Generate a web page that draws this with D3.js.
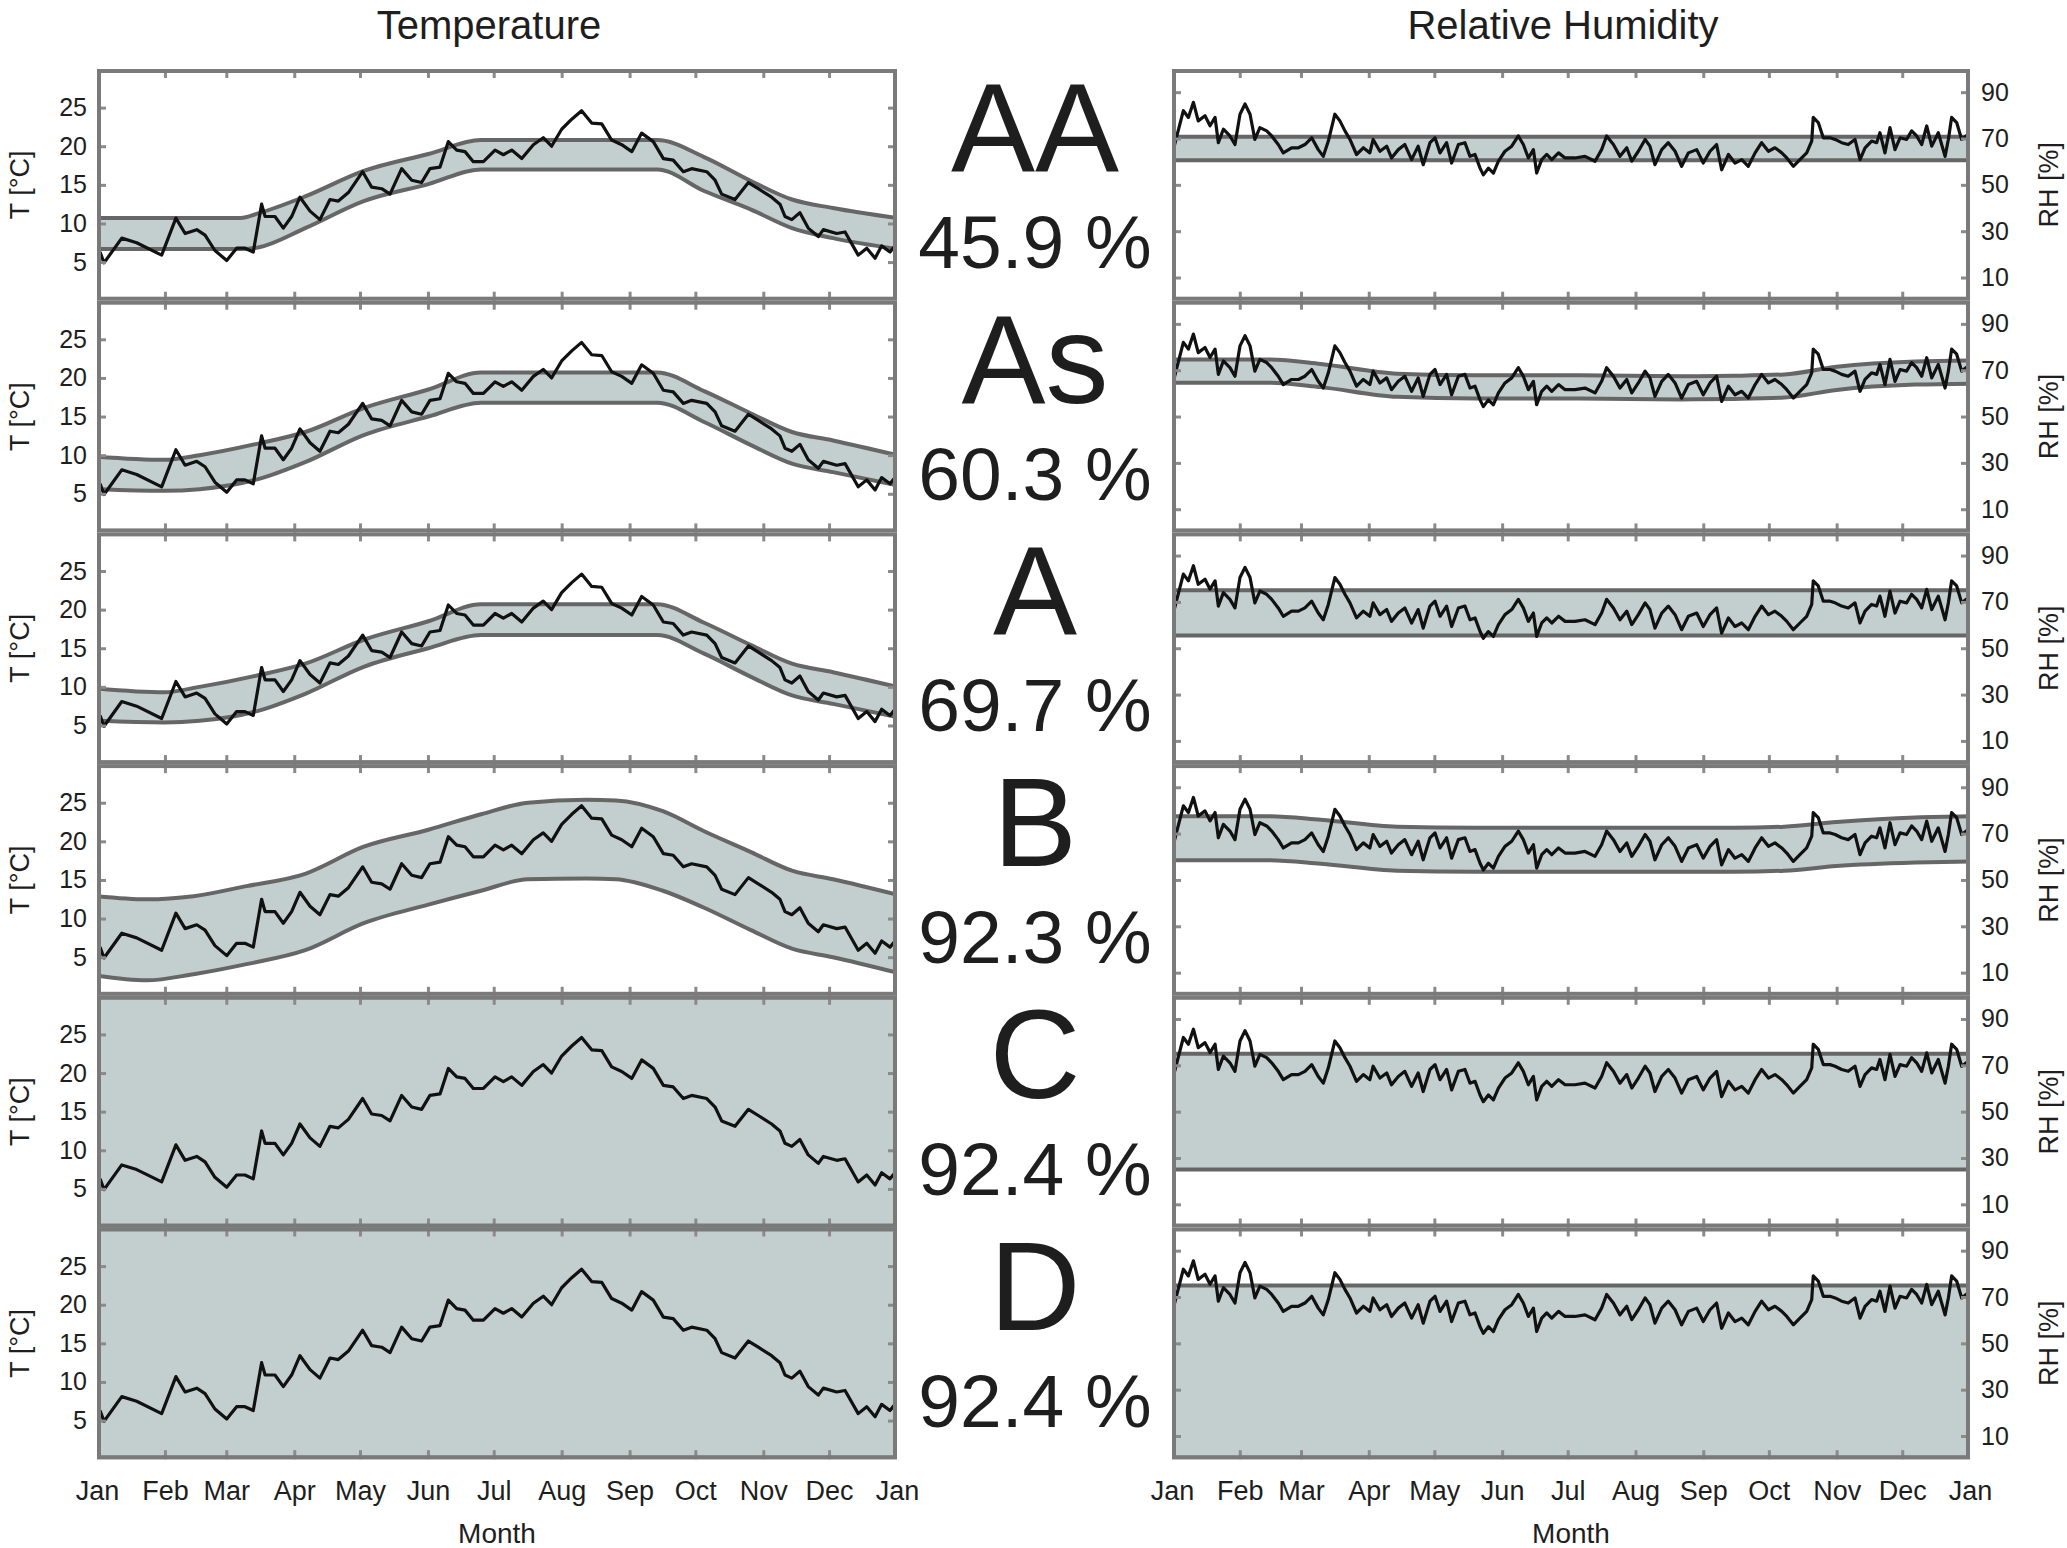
<!DOCTYPE html>
<html>
<head>
<meta charset="utf-8">
<script src="https://cdn.jsdelivr.net/npm/d3@7"></script>
<style>
  body { margin: 0; background: #fff; }
  svg { display: block; }
  text { font-family: "Liberation Sans", Arial, sans-serif; fill: #1e1e1e; }
</style>
</head>
<body>
<svg id="chart" width="2067" height="1548"></svg>
<script>
// ---- climate classes and share of the year inside each class's limits ----
const classes = ["AA", "As", "A", "B", "C", "D"];
const inBandPct = [45.9, 60.3, 69.7, 92.3, 92.4, 92.4];

// ---- time axis (day of year) ----
const monthLabels = ["Jan", "Feb", "Mar", "Apr", "May", "Jun", "Jul", "Aug", "Sep", "Oct", "Nov", "Dec", "Jan"];
const monthStartDays = [0, 31, 59, 90, 120, 151, 181, 212, 243, 273, 304, 334, 365];
const tempTicks = [5, 10, 15, 20, 25];
const rhTicks = [10, 30, 50, 70, 90];

// ---- measured indoor temperature [°C] ----
const tempDays = [1.4, 3.2, 11.3, 18.1, 29.5, 36.0, 40.2, 45.5, 49.3, 53.8, 59.2, 63.7, 67.5, 71.3,
  75.1, 76.7, 81.2, 85.0, 88.8, 92.6, 97.2, 101.7, 106.3, 110.1, 114.7, 121.2, 125.3, 129.9, 133.7,
  139.0, 143.6, 148.1, 151.9, 156.5, 160.3, 164.1, 167.9, 171.7, 176.3, 181.6, 185.4, 189.2, 193.8,
  199.1, 203.6, 207.4, 212.0, 216.6, 221.1, 225.7, 230.3, 234.8, 239.4, 244.0, 248.5, 253.8, 258.4,
  262.9, 267.5, 271.3, 278.2, 282.0, 285.0, 291.1, 297.2, 301.7, 307.8, 311.6, 313.9, 317.0, 320.7,
  324.5, 329.1, 331.4, 337.5, 341.3, 347.3, 351.2, 355.0, 358.0, 361.8, 364.1];
const tempValues = [6.3, 4.9, 8.1, 7.5, 5.9, 10.7, 8.7, 9.2, 8.5, 6.5, 5.2, 6.8, 6.8, 6.3,
  12.5, 10.9, 10.9, 9.4, 10.9, 13.4, 11.6, 10.5, 13.1, 12.9, 14.0, 16.7, 14.7, 14.5, 13.8,
  17.1, 15.6, 15.3, 17.1, 17.3, 20.6, 19.5, 19.3, 18.0, 18.0, 19.5, 18.9, 19.5, 18.4,
  20.2, 21.1, 20.0, 22.2, 23.5, 24.6, 23.0, 22.9, 20.8, 20.2, 19.3, 21.7, 20.6, 18.4,
  18.2, 16.7, 17.1, 16.7, 15.6, 13.8, 13.1, 15.3, 14.5, 13.4, 12.5, 10.9, 10.5, 11.4,
  9.4, 8.3, 9.2, 8.7, 8.9, 5.9, 6.8, 5.5, 7.1, 6.3, 7.1];

// ---- measured indoor relative humidity [%] ----
const rhDays = [0.6, 5.2, 7.5, 9.8, 12.0, 15.1, 17.4, 19.7, 21.2, 23.5, 26.5, 28.8, 31.1, 33.4, 35.7,
  37.9, 40.2, 43.3, 45.6, 48.6, 50.9, 54.7, 57.8, 60.8, 63.9, 66.9, 69.2, 71.5, 74.5, 76.8, 79.1,
  81.4, 84.4, 87.5, 90.5, 92.0, 95.1, 98.2, 100.4, 103.5, 106.5, 109.6, 112.6, 114.9, 118.0, 120.3,
  122.6, 125.6, 127.9, 131.0, 134.0, 136.3, 138.6, 140.9, 142.4, 144.7, 147.0, 149.3, 152.3, 155.4,
  158.4, 160.7, 163.0, 165.3, 166.8, 169.1, 171.4, 173.7, 176.8, 179.8, 184.3, 188.9, 193.5, 196.5,
  198.8, 201.9, 204.9, 208.0, 210.3, 213.3, 216.4, 218.6, 220.9, 224.0, 227.0, 230.1, 233.1, 236.2,
  240.0, 243.0, 246.1, 249.1, 251.4, 254.5, 257.5, 260.6, 263.6, 266.7, 269.7, 272.8, 275.8, 278.9,
  281.2, 284.2, 287.2, 290.3, 292.6, 293.3, 295.6, 297.9, 301.0, 303.3, 306.3, 309.3, 312.4, 314.7,
  317.0, 320.0, 322.3, 323.8, 326.1, 328.4, 330.7, 333.0, 336.0, 338.3, 340.6, 342.9, 345.2, 347.5,
  350.5, 353.6, 355.1, 356.6, 358.9, 361.2, 364.5];
const rhValues = [65.2, 82.0, 79.1, 85.6, 77.6, 79.8, 75.5, 79.1, 68.2, 74.0, 71.1, 67.4, 80.5, 84.9, 80.5,
  69.6, 74.7, 73.3, 71.1, 67.4, 63.8, 66.0, 66.0, 67.4, 70.3, 65.2, 62.3, 68.9, 80.5, 77.6, 73.3,
  69.6, 63.1, 66.0, 63.8, 69.6, 64.5, 66.7, 61.6, 65.2, 67.4, 60.9, 66.7, 58.7, 68.2, 70.3,
  63.8, 68.2, 59.4, 67.4, 68.2, 62.3, 63.1, 57.2, 54.3, 57.2, 55.1, 60.2, 64.5, 66.7,
  71.1, 67.4, 61.6, 65.2, 55.1, 60.9, 63.1, 60.9, 63.8, 61.6, 61.6, 62.3, 60.2, 65.2,
  71.1, 67.4, 62.3, 66.0, 60.2, 64.5, 69.6, 66.7, 58.7, 65.2, 68.2, 64.5, 58.0, 63.8,
  65.2, 59.4, 64.5, 67.4, 56.5, 63.1, 59.4, 60.9, 58.0, 63.8, 68.2, 64.5, 66.0, 63.8,
  61.6, 58.0, 60.9, 63.8, 68.9, 79.1, 76.9, 70.3, 70.3, 69.6, 68.2, 67.4, 69.6, 60.9,
  66.0, 68.9, 68.2, 72.5, 63.8, 74.7, 65.2, 70.3, 69.6, 73.3, 71.1, 67.4, 75.4, 66.7,
  72.5, 62.3, 69.6, 79.1, 76.9, 69.6, 72.0];

// ---- allowed temperature ranges per class: [day, lower, upper] ----
const tBandAA = [[0, 6.7, 10.7], [65.5, 6.7, 10.7], [73.5, 6.9, 11.3], [95, 9.4, 13.5], [121.7, 12.9, 16.8],
  [151.2, 15.1, 19.0], [175.2, 17.0, 20.8], [255.6, 17.0, 20.8], [277, 14.2, 18.6], [298.4, 11.8, 15.5],
  [317.1, 9.4, 13.1], [335.8, 8.1, 12.0], [365, 6.7, 10.7]];
const tBandAs = [[0, 5.6, 9.8], [30.7, 5.4, 9.4], [46.8, 5.6, 10.0], [73.5, 6.9, 11.5], [95, 9.1, 13.0],
  [121.7, 12.6, 16.1], [151.2, 15.0, 18.5], [175.2, 16.8, 20.7], [255.6, 16.8, 20.7], [277, 14.3, 18.3],
  [298.4, 11.3, 15.4], [317.1, 8.9, 13.0], [335.8, 7.8, 11.9], [365, 6.1, 10.0]];
const tBandA = [[0, 5.6, 9.8], [30.7, 5.4, 9.3], [46.8, 5.6, 10.0], [73.5, 6.9, 11.5], [95, 9.1, 13.0],
  [121.7, 12.6, 16.1], [151.2, 15.0, 18.5], [175.2, 16.7, 20.7], [255.6, 16.7, 20.7], [277, 14.3, 18.3],
  [298.4, 11.3, 15.4], [317.1, 8.9, 13.0], [335.8, 7.8, 11.9], [365, 6.1, 10.0]];
const tBandB = [[0, 2.6, 12.9], [22.7, 2.0, 12.5], [44.1, 2.8, 12.9], [68.2, 4.1, 14.2], [95, 5.9, 15.8],
  [121.7, 9.4, 19.3], [151.2, 11.8, 21.5], [175.2, 13.6, 23.5], [196.6, 15.1, 25.0], [223.4, 15.2, 25.4],
  [236.8, 15.1, 25.3], [258.2, 13.6, 23.9], [277, 11.4, 21.3], [298.4, 8.5, 18.6], [317.1, 6.1, 16.2],
  [335.8, 5.0, 15.1], [365, 3.0, 13.1]];
const tBandC = [[0, 0, 30], [365, 0, 30]];
const tBandD = [[0, 0, 30], [365, 0, 30]];

// ---- allowed relative humidity ranges per class: [day, lower, upper] ----
const rhBandAA = [[0, 60.6, 70.8], [365, 60.6, 70.8]];
const rhBandAs = [[0, 64.6, 74.6], [44, 64.6, 74.6], [68, 62.7, 72.7], [103, 58.5, 68.5], [139, 57.8, 67.8],
  [186, 57.8, 67.8], [233, 57.4, 67.4], [257, 57.6, 67.6], [280, 58.2, 68.2], [304, 61.5, 71.5],
  [340, 63.8, 73.8], [365, 64.2, 74.2]];
const rhBandA = [[0, 55.5, 75.0], [365, 55.5, 75.0]];
const rhBandB = [[0, 58.5, 77.5], [44, 58.5, 77.5], [68, 57.0, 76.0], [103, 54.0, 73.0], [139, 53.5, 72.5],
  [186, 53.5, 72.5], [233, 53.5, 72.5], [257, 53.5, 72.5], [280, 54.0, 73.0], [304, 56.0, 75.0],
  [340, 57.5, 77.0], [365, 58.0, 77.5]];
const rhBandC = [[0, 25, 75], [365, 25, 75]];
const rhBandD = [[0, 0, 75], [365, 0, 75]];

const tBands = [tBandAA, tBandAs, tBandA, tBandB, tBandC, tBandD];
const rhBands = [rhBandAA, rhBandAs, rhBandA, rhBandB, rhBandC, rhBandD];

// ---- layout ----
const svg = d3.select("#chart");
const W = 2067, H = 1548;
svg.append("rect").attr("width", W).attr("height", H).attr("fill", "#fff");

const leftX = [97, 897], rightX = [1172, 1970];
const top0 = 69, panelH = 231.7;
const colors = { fill: "#c3cfce", edge: "#666", frame: "#7a7a7a", tick: "#8a8a8a", line: "#111" };

const xT = d3.scaleLinear().domain([0, 365]).range(leftX);
const xRH = d3.scaleLinear().domain([0, 365]).range(rightX);

const defs = svg.append("defs");

function drawPanel(i, xs, yDomain, yTicks, series, band, side) {
  const y0 = top0 + i * panelH, y1 = y0 + panelH;
  const ys = d3.scaleLinear().domain(yDomain).range([y1, y0]);
  const g = svg.append("g");
  const clipId = `clip-${side}-${i}`;
  defs.append("clipPath").attr("id", clipId)
    .append("rect").attr("x", xs.range()[0]).attr("y", y0)
    .attr("width", xs.range()[1] - xs.range()[0]).attr("height", panelH);
  const inner = g.append("g").attr("clip-path", `url(#${clipId})`);

  // tolerance band
  const area = d3.area().x(d => xs(d[0])).y0(d => ys(d[1])).y1(d => ys(d[2])).curve(d3.curveMonotoneX);
  inner.append("path").datum(band).attr("d", area).attr("fill", colors.fill);
  const lo = d3.line().x(d => xs(d[0])).y(d => ys(d[1])).curve(d3.curveMonotoneX);
  const hi = d3.line().x(d => xs(d[0])).y(d => ys(d[2])).curve(d3.curveMonotoneX);
  inner.append("path").datum(band).attr("d", lo).attr("fill", "none").attr("stroke", colors.edge).attr("stroke-width", 4);
  inner.append("path").datum(band).attr("d", hi).attr("fill", "none").attr("stroke", colors.edge).attr("stroke-width", 4);

  // measured series
  const line = d3.line().x(d => xs(d[0])).y(d => ys(d[1]));
  inner.append("path").datum(series).attr("d", line)
    .attr("fill", "none").attr("stroke", colors.line).attr("stroke-width", 3.2).attr("stroke-linejoin", "round");

  // inward ticks on all four sides
  const innerMonths = monthStartDays.slice(1, -1);
  const styleAxis = sel => {
    sel.select(".domain").remove();
    sel.selectAll(".tick line").attr("stroke", colors.tick).attr("stroke-width", 3);
    sel.selectAll(".tick text").style("font-size", "25px").attr("fill", "#1e1e1e");
  };
  g.append("g").attr("transform", `translate(0,${y0})`)
    .call(d3.axisTop(xs).tickValues(innerMonths).tickSize(-9).tickFormat("")).call(styleAxis);
  const isBottom = i === classes.length - 1;
  const bottomAxis = g.append("g").attr("transform", `translate(0,${y1})`)
    .call(d3.axisBottom(xs).tickValues(isBottom ? monthStartDays : innerMonths).tickSize(-9)
      .tickPadding(14).tickFormat(isBottom ? (d, k) => monthLabels[k] : ""))
    .call(styleAxis);
  if (isBottom) {
    bottomAxis.selectAll(".tick text").style("font-size", "27px").attr("dy", "0.71em").attr("y", 22);
    bottomAxis.selectAll(".tick").filter(d => d === 0 || d === 365).select("line").remove();
  }
  const leftAxis = d3.axisLeft(ys).tickValues(yTicks).tickSize(-9).tickPadding(10);
  const rightAxis = d3.axisRight(ys).tickValues(yTicks).tickSize(-9).tickPadding(11);
  g.append("g").attr("transform", `translate(${xs.range()[0]},0)`)
    .call(side === "T" ? leftAxis : leftAxis.tickFormat("")).call(styleAxis);
  g.append("g").attr("transform", `translate(${xs.range()[1]},0)`)
    .call(side === "RH" ? rightAxis : rightAxis.tickFormat("")).call(styleAxis);

  // frame drawn just inside the panel edges
  g.append("rect").attr("x", xs.range()[0] + 2).attr("y", y0 + 2)
    .attr("width", xs.range()[1] - xs.range()[0] - 4).attr("height", panelH - 4)
    .attr("fill", "none").attr("stroke", colors.frame).attr("stroke-width", 4);

  // axis title
  const cy = (y0 + y1) / 2;
  if (side === "T") {
    svg.append("text").attr("transform", `translate(29,${cy}) rotate(-90)`)
      .attr("text-anchor", "middle").style("font-size", "27px").text("T [°C]");
  } else {
    svg.append("text").attr("transform", `translate(2058,${cy}) rotate(-90)`)
      .attr("text-anchor", "middle").style("font-size", "27px").text("RH [%]");
  }
}

const tempSeries = tempDays.map((d, k) => [d, tempValues[k]]);
const rhSeries = rhDays.map((d, k) => [d, rhValues[k]]);

classes.forEach((c, i) => {
  drawPanel(i, xT, [0, 30], tempTicks, tempSeries, tBands[i], "T");
  drawPanel(i, xRH, [0, 100], rhTicks, rhSeries, rhBands[i], "RH");
  const y0 = top0 + i * panelH;
  svg.append("text").attr("x", 1035).attr("y", y0 + 102).attr("text-anchor", "middle")
    .style("font-size", "126px").attr("fill", "#000").text(c);
  svg.append("text").attr("x", 1035).attr("y", y0 + 199).attr("text-anchor", "middle")
    .style("font-size", "75px").attr("fill", "#000").text(`${inBandPct[i].toFixed(1)} %`);
});

// column titles and x-axis titles
svg.append("text").attr("x", 489).attr("y", 39).attr("text-anchor", "middle").style("font-size", "40px").text("Temperature");
svg.append("text").attr("x", 1563).attr("y", 39).attr("text-anchor", "middle").style("font-size", "40px").text("Relative Humidity");
svg.append("text").attr("x", 497).attr("y", 1543).attr("text-anchor", "middle").style("font-size", "28px").text("Month");
svg.append("text").attr("x", 1571).attr("y", 1543).attr("text-anchor", "middle").style("font-size", "28px").text("Month");
</script>
</body>
</html>
